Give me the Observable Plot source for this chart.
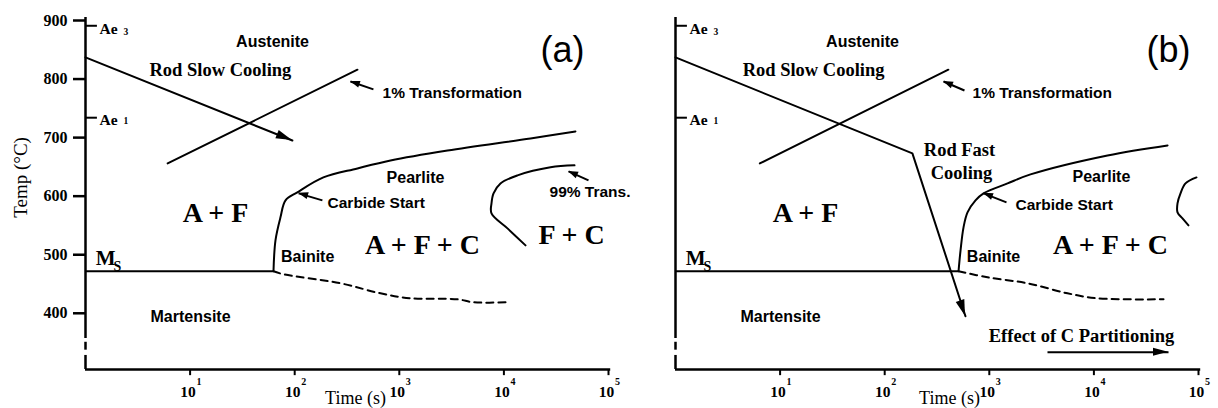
<!DOCTYPE html>
<html><head><meta charset="utf-8">
<script src="https://cdn.jsdelivr.net/npm/d3@7"></script>
<script src="https://cdn.jsdelivr.net/npm/@observablehq/plot@0.6"></script>
<style>
body{margin:0;background:#fff;}
#row{display:flex;width:1218px;height:408px;overflow:hidden;}
#row svg{overflow:visible;}
</style></head><body><div id="row"></div>
<script>
// ---------- shared axis data ----------
const timeDomain = [1, 100000];
const tempDomain = [304, 900];
const xTicks = [10, 100, 1000, 10000, 100000];
const xTickExp = ["1", "2", "3", "4", "5"];
const yTicks = [400, 500, 600, 700, 800, 900];
const yAxisSolid = [[357, 905], [304, 328]];
const yAxisDash = [[337, 350.5]];
const Ae3 = 891, Ae1 = 734, Ms = 471.7;

// ---------- panel (a) ----------
const aSlowTime = [1, 95], aSlowTemp = [837, 695];
const aOneTime = [6.1, 398], aOneTemp = [656, 816];
const aStartTime = [62.7, 65.5, 73.1, 81.7, 106, 188, 398, 824, 2890, 17960, 48300];
const aStartTemp = [471.7, 524.6, 563.8, 592.8, 606.5, 632, 647.4, 661, 678, 698.6, 710.6];
const aFinishTime = [62.7, 78.1, 274, 661, 1280, 3600, 5120, 11070];
const aFinishTemp = [471.7, 466.6, 451.2, 434.1, 425.6, 423.9, 418.8, 418.8];
const a99Time = [47300, 27900, 13500, 9270, 7960, 7610, 7610, 10820, 16100];
const a99Temp = [652.6, 649.2, 635.5, 621.8, 604.8, 587.7, 570.6, 545, 516];
const aMsEnd = 62.7;
// pointer arrows: [fromTime, fromTemp, toTime, toTemp]
const aPointers = [[566, 782.3, 341, 795.9], [184, 592.8, 109, 604.8], [64400, 627, 41500, 642.3]];
const aSansMid = [["Austenite", 61.4, 864.2], ["Pearlite", 1429, 632], ["Bainite", 133, 495.6], ["Martensite", 10.1, 393.2]];
const aSansStart = [["1% Transformation", 691, 775.4], ["Carbide Start", 206, 587.7], ["99% Trans.", 27300, 606.5]];
const aSerifMid = [["Rod Slow Cooling", 19.5, 814.7]];
const aPhase = [["A + F", 17.5, 570.6], ["A + F + C", 1667, 516], ["F + C", 44300, 533.1]];
const aLetter = [["(a)", 36300, 848.8]];

// ---------- panel (b) ----------
const bCoolTime = [1, 184, 592], bCoolTemp = [837, 673, 395];
const bOneTime = [6.4, 406], bOneTemp = [656, 816];
const bStartTime = [508, 531, 567, 619, 738, 881, 1494, 2477, 13490, 50600];
const bStartTemp = [471.7, 507.5, 546.8, 572.4, 592.8, 604.8, 621.8, 637.2, 669.6, 686.7];
const bFinishTime = [508, 961, 2320, 5590, 10810, 46300];
const bFinishTemp = [471.7, 461.4, 451.2, 434.1, 425.6, 423.9];
const b99Time = [95700, 75100, 67300, 63000, 63000, 70300, 80200];
const b99Temp = [632, 621.8, 604.8, 587.7, 572.4, 562, 550.2];
const bMsEnd = 508;
const bPointers = [[579, 780.5, 365, 795.9], [1460, 589.4, 881, 604.8]];
const bEffectArrow = [[3600, 333.4, 51700, 333.4]];
const bSansMid = [["Austenite", 61.4, 864.2], ["Pearlite", 11800, 633.8], ["Bainite", 1097, 495.6], ["Martensite", 10.1, 393.2]];
const bSansStart = [["1% Transformation", 691, 775.4], ["Carbide Start", 1780, 584.3]];
const bSerifMid = [["Rod Slow Cooling", 20.9, 814.7], ["Rod Fast", 519, 678.2], ["Cooling", 542, 638.9], ["Effect of C Partitioning", 7610, 360.8]];
const bPhase = [["A + F", 17.5, 570.6], ["A + F + C", 14400, 516]];
const bLetter = [["(b)", 51700, 848.8]];

// ---------- drawing ----------
const serif = "'Liberation Serif', 'Times New Roman', serif";
const sans = "'Liberation Sans', Arial, sans-serif";

function heads(list, len, wid) {
  return (index, scales) => {
    const g = d3.create("svg:g");
    for (const a of list) {
      const x1 = scales.x(a[0]), y1 = scales.y(a[1]), x2 = scales.x(a[2]), y2 = scales.y(a[3]);
      const ang = Math.atan2(y2 - y1, x2 - x1);
      const bx = x2 - len * Math.cos(ang), by = y2 - len * Math.sin(ang);
      const px = -Math.sin(ang) * wid / 2, py = Math.cos(ang) * wid / 2;
      g.append("path").attr("d", `M${x2},${y2}L${bx + px},${by + py}L${bx - px},${by - py}Z`).attr("fill", "black");
    }
    return g.node();
  };
}

function panel(p) {
  const zip = (a, b) => a.map((v, i) => [v, b[i]]);
  const yMin = tempDomain[0];
  const t0 = timeDomain[0];
  const T = {fill: "black", stroke: "none"};
  const marks = [
    // axis lines
    Plot.ruleX(yAxisSolid, {x: () => t0, y1: d => d[0], y2: d => d[1], strokeWidth: 2.5}),
    Plot.ruleX(yAxisDash, {x: () => t0, y1: d => d[0], y2: d => d[1], strokeWidth: 2.5}),
    Plot.ruleY([yMin], {x1: () => t0, x2: () => timeDomain[1] * 1.05, strokeWidth: 2.5}),
    // x ticks (about 6 px long below the axis) and labels
    Plot.ruleX(xTicks, {x: d => d, y1: () => yMin, y2: () => yMin - 10.5, strokeWidth: 2}),
    Plot.text(xTicks, {...T, x: d => d, y: () => yMin, text: () => "10", dy: 23, dx: -2, fontFamily: serif, fontWeight: "bold", fontSize: 15.5}),
    Plot.text(xTicks, {...T, x: d => d, y: () => yMin, text: (d, i) => xTickExp[i], dy: 12, dx: 9, fontFamily: serif, fontWeight: "bold", fontSize: 10}),
    // Ae ticks
    Plot.ruleY([Ae3, Ae1], {x1: () => t0, x2: () => 1.3, strokeWidth: 2}),
    Plot.text([["Ae", Ae3 - 6.4], ["Ae", Ae1 - 3.8]], {...T, x: () => 1.36, y: d => d[1], text: d => d[0], textAnchor: "start", fontFamily: serif, fontWeight: "bold", fontSize: 15.5}),
    Plot.text([["3", Ae3 - 9.8], ["1", Ae1 - 6.4]], {...T, x: () => 2.31, y: d => d[1], text: d => d[0], textAnchor: "start", fontFamily: serif, fontWeight: "bold", fontSize: 9.5}),
    // Ms line and label
    Plot.ruleY([Ms], {x1: () => t0, x2: () => p.msEnd, strokeWidth: 2}),
    Plot.text(["M"], {...T, x: () => 1.25, y: () => 493.9, text: d => d, textAnchor: "start", fontFamily: serif, fontWeight: "bold", fontSize: 21}),
    Plot.text(["S"], {...T, x: () => 1.85, y: () => 480.2, text: d => d, textAnchor: "start", fontFamily: serif, fontWeight: "bold", fontSize: 14}),
    // curves
    Plot.line(zip(p.oneTime, p.oneTemp), {x: d => d[0], y: d => d[1], strokeWidth: 2}),
    Plot.line(zip(p.coolTime, p.coolTemp), {x: d => d[0], y: d => d[1], strokeWidth: 2}),
    heads([[p.coolTime.at(-2), p.coolTemp.at(-2), p.coolTime.at(-1), p.coolTemp.at(-1)]], 16, 9),
    Plot.line(zip(p.startTime, p.startTemp), {x: d => d[0], y: d => d[1], strokeWidth: 2, curve: "catmull-rom"}),
    Plot.line(zip(p.finishTime, p.finishTemp), {x: d => d[0], y: d => d[1], strokeWidth: 2, strokeDasharray: "7,5", curve: "catmull-rom"}),
    Plot.line(zip(p.t99, p.T99), {x: d => d[0], y: d => d[1], strokeWidth: 2, curve: "catmull-rom"}),
    // pointer arrows
    Plot.link(p.pointers, {x1: d => d[0], y1: d => d[1], x2: d => d[2], y2: d => d[3], strokeWidth: 2}),
    heads(p.pointers, 10, 7),
    Plot.link(p.bigArrows, {x1: d => d[0], y1: d => d[1], x2: d => d[2], y2: d => d[3], strokeWidth: 2}),
    heads(p.bigArrows, 15, 8),
    // labels
    Plot.text(p.sansMid, {...T, x: d => d[1], y: d => d[2], text: d => d[0], fontFamily: sans, fontWeight: "bold", fontSize: 16}),
    Plot.text(p.sansStart, {...T, x: d => d[1], y: d => d[2], text: d => d[0], textAnchor: "start", fontFamily: sans, fontWeight: "bold", fontSize: 15.5}),
    Plot.text(p.serifMid, {...T, x: d => d[1], y: d => d[2], text: d => d[0], fontFamily: serif, fontWeight: "bold", fontSize: 18.5}),
    Plot.text(p.phase, {...T, x: d => d[1], y: d => d[2], text: d => d[0], fontFamily: serif, fontWeight: "bold", fontSize: 28}),
    Plot.text(p.letter, {...T, x: d => d[1], y: d => d[2], text: d => d[0], fontFamily: sans, fontWeight: "normal", fontSize: 36}),
    Plot.text(["Time (s)"], {...T, x: () => p.timeLabelAt, frameAnchor: "bottom", textAnchor: "middle", dy: 22, lineAnchor: "top", fontFamily: serif, fontWeight: "normal", fontSize: 18})
  ];
  if (p.yAxis) {
    marks.push(
      Plot.ruleY(yTicks, {y: d => d, x1: () => t0, x2: () => t0, insetLeft: -12, strokeWidth: 2.5}),
      Plot.text(yTicks, {...T, y: d => d, x: () => t0, text: d => String(d), textAnchor: "end", dx: -18, fontFamily: serif, fontWeight: "bold", fontSize: 16}),
      Plot.text(["Temp (°C)"], {...T, frameAnchor: "left", textAnchor: "middle", y: () => 632, dx: -65, rotate: -90, fontFamily: serif, fontWeight: "normal", fontSize: 19})
    );
  }
  return Plot.plot({
    width: p.width, height: 408,
    marginLeft: p.ml, marginRight: p.mr, marginTop: 20, marginBottom: 39,
    style: {fontFamily: serif, fontSize: "15px", background: "white", color: "black", overflow: "visible"},
    x: {type: "log", domain: timeDomain, axis: null},
    y: {domain: tempDomain, axis: null},
    marks
  });
}

const row = document.getElementById("row");
row.append(panel({
  width: 655, ml: 85, mr: 47, yAxis: true, msEnd: aMsEnd, timeLabelAt: 381,
  oneTime: aOneTime, oneTemp: aOneTemp, coolTime: aSlowTime, coolTemp: aSlowTemp,
  startTime: aStartTime, startTemp: aStartTemp, finishTime: aFinishTime, finishTemp: aFinishTemp,
  t99: a99Time, T99: a99Temp, pointers: aPointers, bigArrows: [],
  sansMid: aSansMid, sansStart: aSansStart, serifMid: aSerifMid, phase: aPhase, letter: aLetter
}));
row.append(panel({
  width: 563, ml: 20, mr: 20, yAxis: false, msEnd: bMsEnd, timeLabelAt: 416,
  oneTime: bOneTime, oneTemp: bOneTemp, coolTime: bCoolTime, coolTemp: bCoolTemp,
  startTime: bStartTime, startTemp: bStartTemp, finishTime: bFinishTime, finishTemp: bFinishTemp,
  t99: b99Time, T99: b99Temp, pointers: bPointers, bigArrows: bEffectArrow,
  sansMid: bSansMid, sansStart: bSansStart, serifMid: bSerifMid, phase: bPhase, letter: bLetter
}));
</script></body></html>
